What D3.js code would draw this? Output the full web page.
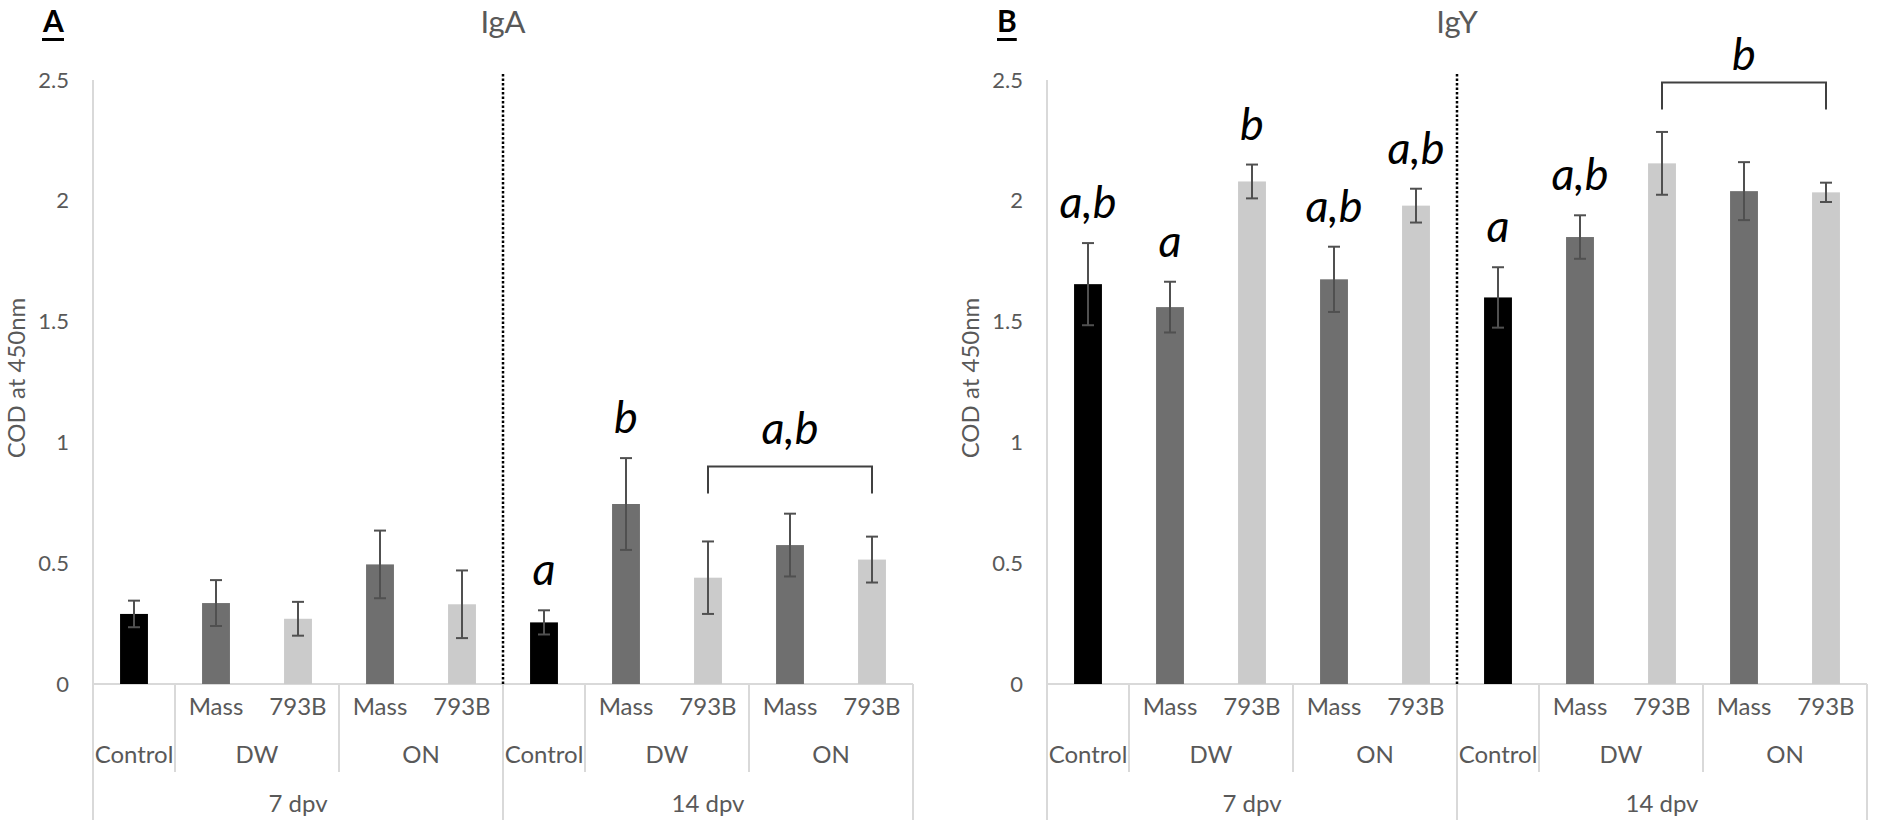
<!DOCTYPE html>
<html lang="en">

<head>
    <meta charset="utf-8">
    <title>IgA / IgY</title>
    <script src="https://d3js.org/d3.v7.min.js"></script>
    <style>
        body { margin: 0; background: #fff; }
    </style>
</head>

<body>
    <div id="dataviz"></div>
    <script>

        // categories
        var dpvLabels = ["7 dpv", "14 dpv"];
        var barGroups = ["Control", "DW", "DW", "ON", "ON"];
        var barStrains = ["", "Mass", "793B", "Mass", "793B"];
        var yTicks = [0, 0.5, 1, 1.5, 2, 2.5];

        // IgA (7 dpv x5, then 14 dpv x5)
        var igaMean = [0.29, 0.335, 0.27, 0.495, 0.33, 0.255, 0.745, 0.44, 0.575, 0.515];
        var igaErr = [0.055, 0.095, 0.07, 0.14, 0.14, 0.05, 0.19, 0.15, 0.13, 0.095];
        var igaLetters = ["", "", "", "", "", "a", "b", "", "", ""];
        var igaBracket = { from: 7, to: 9, at: 0.9, labelAt: 0.995, text: "a,b" };

        // IgY
        var igyMean = [1.655, 1.56, 2.08, 1.675, 1.98, 1.60, 1.85, 2.155, 2.04, 2.035];
        var igyErr = [0.17, 0.105, 0.07, 0.135, 0.07, 0.125, 0.09, 0.13, 0.12, 0.04];
        var igyLetters = ["a,b", "a", "b", "a,b", "a,b", "a", "a,b", "", "", ""];
        var igyBracket = { from: 7, to: 9, at: 2.49, labelAt: 2.54, text: "b" };

        var W = 1878, H = 840;
        var textGrey = "#595959", axisGrey = "#d9d9d9";
        var font = "Lato, 'Open Sans', sans-serif";

        var svg = d3.select("#dataviz")
            .append("svg")
            .attr("width", W)
            .attr("height", H)
            .style("background", "#fff");

        var bars = [];
        dpvLabels.forEach(function (t, ti) {
            barGroups.forEach(function (g, gi) {
                bars.push({ key: t + "|" + g + "|" + barStrains[gi], dpv: t, group: g, strain: barStrains[gi] });
            });
        });

        function barColor(b) {
            if (b.group === "Control") return "#000000";
            return b.strain === "Mass" ? "#6f6f6f" : "#cbcbcb";
        }

        function drawPanel(p) {
            var g = svg.append("g");
            var x = d3.scaleBand()
                .domain(bars.map(function (d) { return d.key; }))
                .range([p.left, p.right])
                .padding(0);
            var y = d3.scaleLinear().domain([0, 2.5]).range([684, 80]);
            var bw = x.bandwidth() * 0.34;
            var cx = function (i) { return x(bars[i].key) + x.bandwidth() / 2; };

            var data = bars.map(function (b, i) {
                return { b: b, v: p.mean[i], e: p.err[i], letter: p.letters[i], cx: cx(i) };
            });

            // panel letter + title
            var lab = g.append("text")
                .attr("x", p.left - 50).attr("y", 32)
                .style("font-family", font).style("font-weight", "bold")
                .style("font-size", "30px").attr("fill", "#000")
                .text(p.tag);
            var bb = lab.node().getBBox();
            g.append("rect").attr("x", bb.x).attr("y", 38).attr("width", bb.width).attr("height", 3).attr("fill", "#000");

            g.append("text")
                .attr("x", (p.left + p.right) / 2).attr("y", 33)
                .attr("text-anchor", "middle")
                .style("font-family", font).style("font-size", "31px")
                .attr("fill", textGrey)
                .text(p.title);

            // y axis title
            g.append("text")
                .attr("transform", "translate(" + (p.left - 68) + "," + 378 + ") rotate(-90)")
                .attr("text-anchor", "middle")
                .style("font-family", font).style("font-size", "24px")
                .attr("fill", textGrey)
                .text("COD at 450nm");

            // y axis
            var ya = g.append("g")
                .attr("transform", "translate(" + p.left + ",0)")
                .call(d3.axisLeft(y).tickValues(yTicks).tickSize(0).tickPadding(24).tickFormat(function (d) { return d; }));
            ya.select(".domain").remove();
            ya.selectAll("text").style("font-family", font).style("font-size", "22px").attr("fill", textGrey);

            // axis lines
            g.append("line").attr("x1", p.left).attr("x2", p.left).attr("y1", y(2.5)).attr("y2", 820)
                .attr("stroke", axisGrey).attr("stroke-width", 2);
            g.append("line").attr("x1", p.left).attr("x2", p.right).attr("y1", y(0)).attr("y2", y(0))
                .attr("stroke", axisGrey).attr("stroke-width", 2);

            // multi level category axis
            dpvLabels.forEach(function (t) {
                var tb = bars.filter(function (b) { return b.dpv === t; });
                var x0 = x(tb[0].key), x1 = x(tb[tb.length - 1].key) + x.bandwidth();
                g.append("line").attr("x1", x1).attr("x2", x1).attr("y1", y(0)).attr("y2", 820)
                    .attr("stroke", axisGrey).attr("stroke-width", 2);
                g.append("text").attr("x", (x0 + x1) / 2).attr("y", 812)
                    .attr("text-anchor", "middle")
                    .style("font-family", font).style("font-size", "24px").attr("fill", textGrey)
                    .text(t);

                var groups = Array.from(new Set(tb.map(function (b) { return b.group; })));
                groups.forEach(function (gr, gi) {
                    var gb = tb.filter(function (b) { return b.group === gr; });
                    var gx0 = x(gb[0].key), gx1 = x(gb[gb.length - 1].key) + x.bandwidth();
                    if (gi < groups.length - 1) {
                        g.append("line").attr("x1", gx1).attr("x2", gx1).attr("y1", y(0)).attr("y2", 772)
                            .attr("stroke", axisGrey).attr("stroke-width", 2);
                    }
                    g.append("text").attr("x", (gx0 + gx1) / 2).attr("y", 763)
                        .attr("text-anchor", "middle")
                        .style("font-family", font).style("font-size", "24px").attr("fill", textGrey)
                        .text(gr);
                    gb.forEach(function (b) {
                        if (!b.strain) return;
                        g.append("text").attr("x", x(b.key) + x.bandwidth() / 2).attr("y", 715)
                            .attr("text-anchor", "middle")
                            .style("font-family", font).style("font-size", "24px").attr("fill", textGrey)
                            .text(b.strain);
                    });
                });
            });

            // dotted separator between time points
            var sepX = x(bars[5].key);
            g.append("line").attr("x1", sepX).attr("x2", sepX).attr("y1", 74).attr("y2", y(0))
                .attr("stroke", "#000").attr("stroke-width", 2.5).attr("stroke-dasharray", "2.5,2");

            // bars
            g.selectAll(".bar").data(data).enter().append("rect")
                .attr("x", function (d) { return d.cx - bw / 2; })
                .attr("y", function (d) { return y(d.v); })
                .attr("width", bw)
                .attr("height", function (d) { return y(0) - y(d.v); })
                .attr("fill", function (d) { return barColor(d.b); });

            // error bars
            var eb = g.selectAll(".err").data(data).enter().append("g").attr("stroke", "#505050").attr("stroke-width", 2);
            eb.append("line")
                .attr("x1", function (d) { return d.cx; }).attr("x2", function (d) { return d.cx; })
                .attr("y1", function (d) { return y(d.v - d.e); }).attr("y2", function (d) { return y(d.v + d.e); });
            eb.append("line")
                .attr("x1", function (d) { return d.cx - 6; }).attr("x2", function (d) { return d.cx + 6; })
                .attr("y1", function (d) { return y(d.v + d.e); }).attr("y2", function (d) { return y(d.v + d.e); });
            eb.append("line")
                .attr("x1", function (d) { return d.cx - 6; }).attr("x2", function (d) { return d.cx + 6; })
                .attr("y1", function (d) { return y(d.v - d.e); }).attr("y2", function (d) { return y(d.v - d.e); });

            // significance letters
            g.selectAll(".letter").data(data.filter(function (d) { return d.letter; })).enter().append("text")
                .attr("x", function (d) { return d.cx; })
                .attr("y", function (d) { return y(d.v + d.e) - 25; })
                .attr("text-anchor", "middle")
                .style("font-family", font).style("font-style", "italic").style("font-size", "45px")
                .attr("fill", "#000")
                .text(function (d) { return d.letter; });

            // bracket
            var br = p.bracket, bx1 = cx(br.from), bx2 = cx(br.to), by = y(br.at);
            g.append("path")
                .attr("d", "M" + bx1 + "," + (by + 27) + "V" + by + "H" + bx2 + "V" + (by + 27))
                .attr("fill", "none").attr("stroke", "#404040").attr("stroke-width", 2);
            g.append("text")
                .attr("x", (bx1 + bx2) / 2).attr("y", y(br.labelAt))
                .attr("text-anchor", "middle")
                .style("font-family", font).style("font-style", "italic").style("font-size", "45px")
                .attr("fill", "#000")
                .text(br.text);
        }

        drawPanel({ left: 93, right: 913, tag: "A", title: "IgA", mean: igaMean, err: igaErr, letters: igaLetters, bracket: igaBracket });
        drawPanel({ left: 1047, right: 1867, tag: "B", title: "IgY", mean: igyMean, err: igyErr, letters: igyLetters, bracket: igyBracket });

    </script>
</body>

</html>
